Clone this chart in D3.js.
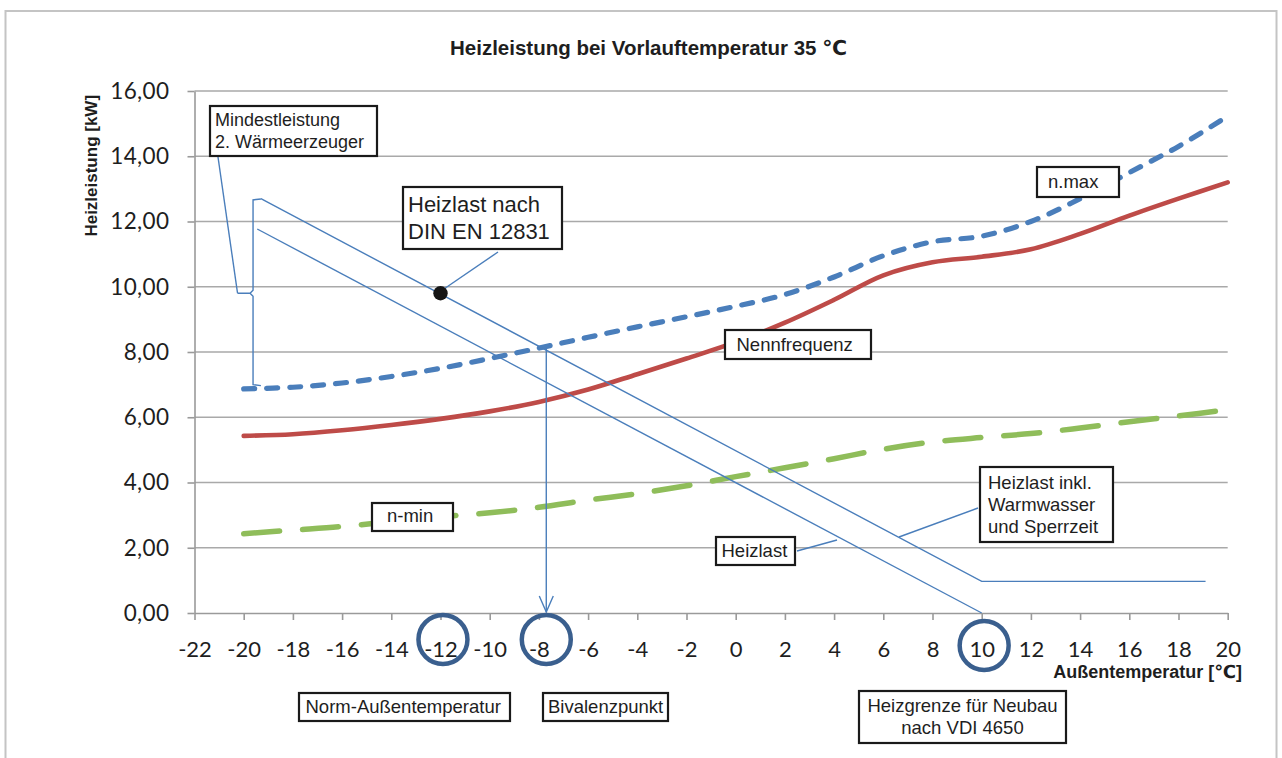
<!DOCTYPE html>
<html>
<head>
<meta charset="utf-8">
<script src="https://cdn.jsdelivr.net/npm/d3@7"></script>
<style>
  body { margin: 0; background: #fff; }
  svg { display: block; }
</style>
</head>
<body>
<svg id="chart" width="1282" height="758"></svg>
<script>
// Außentemperatur [°C] sampling points for the heat pump curves
const temps = [-20, -18, -16, -14, -12, -10, -8, -6, -4, -2, 0, 2, 4, 6, 8, 10, 12, 14, 16, 18, 20];
// Heizleistung [kW] at maximum compressor speed (n.max)
const nMax = [6.87, 6.92, 7.05, 7.25, 7.50, 7.80, 8.12, 8.45, 8.77, 9.08, 9.40, 9.76, 10.30, 10.95, 11.38, 11.55, 12.00, 12.70, 13.50, 14.30, 15.23];
// Heizleistung [kW] at nominal frequency
const nenn = [5.43, 5.48, 5.60, 5.76, 5.95, 6.18, 6.47, 6.85, 7.32, 7.80, 8.30, 8.90, 9.60, 10.35, 10.75, 10.92, 11.15, 11.62, 12.18, 12.70, 13.20];
// Heizleistung [kW] at minimum compressor speed (n-min)
const nMin = [2.43, 2.54, 2.65, 2.80, 2.95, 3.07, 3.24, 3.46, 3.66, 3.90, 4.18, 4.45, 4.73, 5.02, 5.24, 5.38, 5.50, 5.67, 5.86, 6.04, 6.23];

// Heizlast inkl. Warmwasser und Sperrzeit
const loadInclT = [-19.3, 10, 19.1];
const loadInclP = [12.70, 0.97, 0.97];
// Heizlast (building only)
const loadT = [-19.45, 10];
const loadP = [11.77, 0];

// Design point (Heizlast nach DIN EN 12831) and bivalence point
const designT = -12, designP = 9.8;
const bivalentT = -7.7, bivalentP = 8.1;
// Brace for "Mindestleistung 2. Wärmeerzeuger"
const braceT = -19.62, braceTipT = -19.3, braceMidT = -20.25;
const braceTop = 12.66, braceBottom = 7.0, braceMid = 9.8;
// Highlighted temperatures on the x axis
const markedTemps = [-11.9, -7.7, 10.1];

// Axis ticks and labels
const xTicks = [-22, -20, -18, -16, -14, -12, -10, -8, -6, -4, -2, 0, 2, 4, 6, 8, 10, 12, 14, 16, 18, 20];
const xTickLabels = ["-22", "-20", "-18", "-16", "-14", "-12", "-10", "-8", "-6", "-4", "-2", "0", "2", "4", "6", "8", "10", "12", "14", "16", "18", "20"];
const yTicks = [0, 2, 4, 6, 8, 10, 12, 14, 16];
const yTickLabels = ["0,00", "2,00", "4,00", "6,00", "8,00", "10,00", "12,00", "14,00", "16,00"];

const svg = d3.select("#chart");

const C = {
  blue: "#4A7EBB",
  red: "#BE4B48",
  green: "#8FBD5A",
  ring: "#3A5F8E",
  grid: "#A9A9A9",
  axis: "#9A9A9A",
  text: "#1E1E1E"
};
const sans = "'Liberation Sans', Arial, 'DejaVu Sans', sans-serif";
const tickFont = "Lato, 'Open Sans', sans-serif";

const x = d3.scaleLinear().domain([-22, 20]).range([194.5, 1227.7]);
const y = d3.scaleLinear().domain([0, 16]).range([613, 91]);

// outer frame
svg.append("rect")
  .attr("x", 5.5).attr("y", 11).attr("width", 1271).attr("height", 770)
  .attr("fill", "#fff").attr("stroke", "#C4C4C4").attr("stroke-width", 2);

// title
svg.append("text")
  .attr("x", 648.5).attr("y", 55)
  .attr("text-anchor", "middle")
  .attr("font-family", sans).attr("font-weight", "bold").attr("font-size", 20.5)
  .attr("fill", C.text)
  .text("Heizleistung bei Vorlauftemperatur 35 \u2103");

// horizontal gridlines
svg.append("g").selectAll("line")
  .data(yTicks.filter(d => d > 0))
  .join("line")
  .attr("x1", x(-22)).attr("x2", x(20))
  .attr("y1", d => y(d)).attr("y2", d => y(d))
  .attr("stroke", C.grid).attr("stroke-width", 1.6);

// y axis
const yAxis = svg.append("g")
  .attr("transform", `translate(${x(-22)},0)`)
  .call(d3.axisLeft(y).tickValues(yTicks).tickFormat((d, i) => yTickLabels[i]).tickSize(7).tickSizeOuter(0).tickPadding(18));
yAxis.select(".domain").attr("stroke", C.axis).attr("stroke-width", 1.6);
yAxis.selectAll(".tick line").attr("stroke", C.axis).attr("stroke-width", 1.6);
yAxis.selectAll(".tick text")
  .attr("font-family", tickFont).attr("font-size", 22.5).attr("fill", C.text)
  .attr("letter-spacing", 0.4)
  .attr("dy", "0.33em");

// x axis
const xAxis = svg.append("g")
  .attr("transform", `translate(0,${y(0)})`)
  .call(d3.axisBottom(x).tickValues(xTicks).tickFormat((d, i) => xTickLabels[i]).tickSize(7).tickSizeOuter(0));
xAxis.select(".domain").attr("stroke", C.axis).attr("stroke-width", 1.6);
xAxis.selectAll(".tick line").attr("stroke", C.axis).attr("stroke-width", 1.6);
xAxis.selectAll(".tick text")
  .attr("font-family", tickFont).attr("font-size", 22).attr("fill", C.text)
  .attr("y", 43.5).attr("dy", 0);

// axis titles
svg.append("text")
  .attr("transform", `translate(97,${(y(16) + y(11.6)) / 2 + 3}) rotate(-90)`)
  .attr("text-anchor", "middle")
  .attr("font-family", sans).attr("font-weight", "bold").attr("font-size", 17)
  .attr("fill", C.text)
  .text("Heizleistung [kW]");

svg.append("text")
  .attr("x", 1242).attr("y", 678)
  .attr("text-anchor", "end")
  .attr("font-family", sans).attr("font-weight", "bold").attr("font-size", 18)
  .attr("fill", C.text)
  .text("Außentemperatur [\u2103]");

// heat pump capacity curves
const curve = d3.line()
  .x((d, i) => x(temps[i]))
  .y(d => y(d))
  .curve(d3.curveCatmullRom.alpha(0.5));

svg.append("path").attr("d", curve(nMin))
  .attr("fill", "none").attr("stroke", C.green).attr("stroke-width", 5.5)
  .attr("stroke-linecap", "round").attr("stroke-dasharray", "36,23");

svg.append("path").attr("d", curve(nenn))
  .attr("fill", "none").attr("stroke", C.red).attr("stroke-width", 4.6)
  .attr("stroke-linecap", "round");

svg.append("path").attr("d", curve(nMax))
  .attr("fill", "none").attr("stroke", C.blue).attr("stroke-width", 5.2)
  .attr("stroke-linecap", "round").attr("stroke-dasharray", "11,12");

// heat load lines
const straight = (ts, ps) => d3.line().x((d, i) => x(ts[i])).y(d => y(d))(ps);
svg.append("path").attr("d", straight(loadInclT, loadInclP))
  .attr("fill", "none").attr("stroke", C.blue).attr("stroke-width", 1.4);
svg.append("path").attr("d", straight(loadT, loadP))
  .attr("fill", "none").attr("stroke", C.blue).attr("stroke-width", 1.4);

// brace marking the output range of the second heat generator
const bx = x(braceT);
svg.append("path")
  .attr("d", `M${x(braceTipT)},${y(braceTop) - 1} L${bx + 3},${y(braceTop) - 0.5} L${bx},${y(braceTop)}`
    + ` L${bx},${y(braceMid) - 3} L${bx - 3},${y(braceMid)} L${x(braceMidT)},${y(braceMid)}`
    + ` M${bx - 3},${y(braceMid)} L${bx},${y(braceMid) + 3}`
    + ` L${bx},${y(braceBottom)} L${x(braceTipT)},${y(braceBottom) + 1}`)
  .attr("fill", "none").attr("stroke", C.blue).attr("stroke-width", 1.4);

// arrow from the bivalence point to the axis
const ax = x(bivalentT);
svg.append("line")
  .attr("x1", ax).attr("x2", ax).attr("y1", y(bivalentP)).attr("y2", y(0) - 1)
  .attr("stroke", C.blue).attr("stroke-width", 1.4);
svg.append("path")
  .attr("d", `M${ax - 7},${y(0) - 17} L${ax},${y(0) - 1} L${ax + 7},${y(0) - 17}`)
  .attr("fill", "none").attr("stroke", C.blue).attr("stroke-width", 1.4);

// leader lines of the annotation boxes
const leaders = [
  [[218, 157], [x(braceMidT), y(braceMid)]],
  [[498, 252], [x(designT) + 3, y(designP) - 4]],
  [[797, 551], [837, 540]],
  [[978, 508], [899, 537]]
];
svg.append("g").selectAll("line").data(leaders).join("line")
  .attr("x1", d => d[0][0]).attr("y1", d => d[0][1])
  .attr("x2", d => d[1][0]).attr("y2", d => d[1][1])
  .attr("stroke", C.blue).attr("stroke-width", 1.4);

// design point
svg.append("circle")
  .attr("cx", x(designT)).attr("cy", y(designP)).attr("r", 7.2)
  .attr("fill", "#151515");

// annotation boxes
const boxes = [
  { lines: ["Mindestleistung", "2. Wärmeerzeuger"], x: 210, y: 106, w: 167, h: 50, size: 18, tx: 5, b0: 20, lh: 22 },
  { lines: ["Heizlast nach", "DIN EN 12831"], x: 403, y: 187, w: 159, h: 62, size: 22, tx: 5, b0: 24.5, lh: 27.3 },
  { lines: ["Nennfrequenz"], x: 725, y: 330, w: 146, h: 29, size: 18.5, tx: 11.5, b0: 20.7 },
  { lines: ["n.max"], x: 1037, y: 167, w: 82, h: 30, size: 18.5, tx: 11, b0: 20.7 },
  { lines: ["n-min"], x: 372, y: 503, w: 81, h: 28, size: 18.5, tx: 15, b0: 18.5 },
  { lines: ["Heizlast"], x: 716, y: 537, w: 79, h: 28, size: 18.5, tx: 5.5, b0: 20 },
  { lines: ["Heizlast inkl.", "Warmwasser", "und Sperrzeit"], x: 980, y: 467, w: 133, h: 75, size: 18.5, tx: 8, b0: 21.5, lh: 22 },
  { lines: ["Norm-Außentemperatur"], x: 299, y: 693, w: 211, h: 28, size: 18.5, tx: 6.5, b0: 20 },
  { lines: ["Bivalenzpunkt"], x: 543, y: 693, w: 125, h: 28, size: 18.5, tx: 5, b0: 20 },
  { lines: ["Heizgrenze für Neubau", "nach VDI 4650"], x: 859, y: 691, w: 207, h: 52, size: 18.5, center: true, b0: 20.7, lh: 22.3 }
];
const bg = svg.append("g").selectAll("g").data(boxes).join("g")
  .attr("transform", d => `translate(${d.x},${d.y})`);
bg.append("rect")
  .attr("width", d => d.w).attr("height", d => d.h)
  .attr("fill", "#fff").attr("stroke", "#1A1A1A").attr("stroke-width", 2.2);
bg.each(function (d) {
  const g = d3.select(this);
  d.lines.forEach((t, i) => {
    g.append("text")
      .attr("x", d.center ? d.w / 2 : d.tx)
      .attr("y", d.b0 + i * (d.lh || 0))
      .attr("text-anchor", d.center ? "middle" : "start")
      .attr("font-family", sans).attr("font-size", d.size)
      .attr("fill", C.text)
      .text(t);
  });
});

// rings around the highlighted temperatures
const ringY = [639.5, 639.5, 645.5];
svg.append("g").selectAll("circle").data(markedTemps).join("circle")
  .attr("cx", d => x(d)).attr("cy", (d, i) => ringY[i]).attr("r", 24.5)
  .attr("fill", "none").attr("stroke", C.ring).attr("stroke-width", 4.5);
</script>
</body>
</html>
